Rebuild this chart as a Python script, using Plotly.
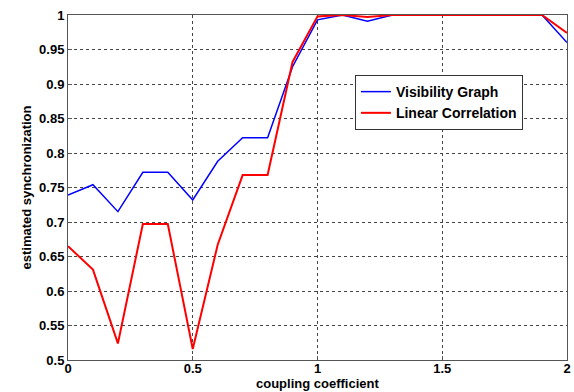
import plotly.graph_objects as go

coupling = [0.0, 0.1, 0.2, 0.3, 0.4, 0.5, 0.6, 0.7, 0.8, 0.9, 1.0,
            1.1, 1.2, 1.3, 1.4, 1.5, 1.6, 1.7, 1.8, 1.9, 2.0]
visibility_graph = [0.739, 0.754, 0.715, 0.772, 0.772, 0.732, 0.788, 0.822, 0.822, 0.925, 0.993,
                    1.0, 0.991, 1.0, 1.0, 1.0, 1.0, 1.0, 1.0, 1.0, 0.960]
linear_correlation = [0.665, 0.631, 0.524, 0.697, 0.697, 0.516, 0.667, 0.768, 0.768, 0.932, 0.998,
                      1.0, 0.997, 1.0, 1.0, 1.0, 1.0, 1.0, 1.0, 1.0, 0.974]
x_ticks = [0, 0.5, 1, 1.5, 2]
x_tick_labels = ["0", "0.5", "1", "1.5", "2"]
y_ticks = [0.5, 0.55, 0.6, 0.65, 0.7, 0.75, 0.8, 0.85, 0.9, 0.95, 1.0]
y_tick_labels = ["0.5", "0.55", "0.6", "0.65", "0.7", "0.75", "0.8", "0.85", "0.9", "0.95", "1"]

font_family = "Liberation Sans, Arial, sans-serif"

def bold(s):
    return "<b>" + s + "</b>"

fig = go.Figure()
fig.add_trace(go.Scatter(x=coupling, y=visibility_graph, mode="lines",
                         name=bold("Visibility Graph"), line=dict(color="#0000FF", width=1.5)))
fig.add_trace(go.Scatter(x=coupling, y=linear_correlation, mode="lines",
                         name=bold("Linear Correlation"), line=dict(color="#FF0000", width=2)))

axis_common = dict(showline=True, linecolor="#555555", linewidth=1, mirror=True,
                   showgrid=True, gridcolor="#444444", gridwidth=1, griddash="dot",
                   zeroline=False, ticks="inside", ticklen=4, tickcolor="#555555",
                   automargin=False,
                   tickfont=dict(family=font_family, size=13, color="black"))

fig.update_layout(
    width=574, height=392,
    margin=dict(l=68, r=7, t=15, b=32),
    paper_bgcolor="white", plot_bgcolor="white",
    font=dict(family=font_family, color="black"),
    xaxis=dict(range=[0, 2], tickvals=x_ticks, ticktext=[bold(t) for t in x_tick_labels],
               ticklabelstandoff=-4,
               **axis_common),
    yaxis=dict(range=[0.5, 1.0], tickvals=y_ticks, ticktext=[bold(t) for t in y_tick_labels],
               title=dict(text=bold("estimated synchronization"),
                          font=dict(family=font_family, size=13), standoff=4),
               **axis_common),
    legend=dict(x=0.575, y=0.826, xanchor="left", yanchor="top",
                bgcolor="white", bordercolor="#333333", borderwidth=1,
                font=dict(family=font_family, size=14, color="black"),
                tracegroupgap=0, itemwidth=30),
    showlegend=True,
    annotations=[dict(text=bold("coupling coefficient"), xref="paper", yref="paper",
                      x=0.5, y=-32 / 345, xanchor="center", yanchor="bottom",
                      showarrow=False, borderpad=0,
                      font=dict(family=font_family, size=13, color="black"))],
)

fig.write_html("out.html")
